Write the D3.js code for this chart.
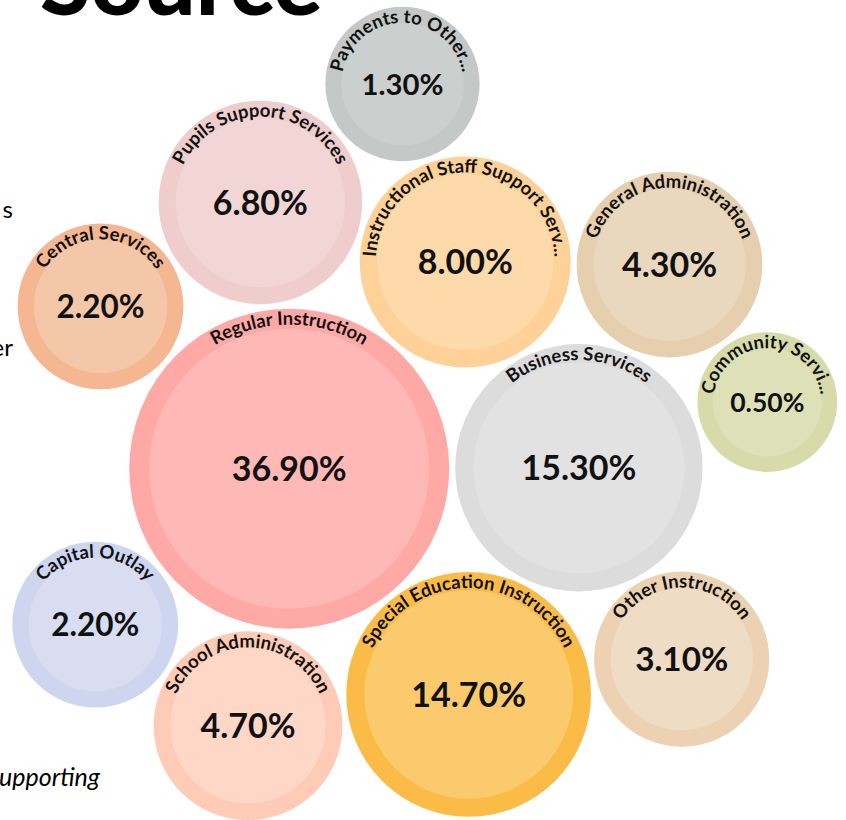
<!DOCTYPE html>
<html>
<head>
<meta charset="utf-8">
<script src="https://cdn.jsdelivr.net/npm/d3@7"></script>
<style>
  body { margin: 0; background: #fff; }
  svg { display: block; font-family: Lato, "Noto Sans", sans-serif; }
</style>
</head>
<body>
<svg id="chart" width="846" height="820"></svg>
<script>
// spending by function, share of total
var categories = ["Regular Instruction", "Business Services", "Special Education Instruction",
    "Instructional Staff Support Services", "Pupils Support Services", "School Administration",
    "General Administration", "Other Instruction", "Central Services", "Capital Outlay",
    "Payments to Other Districts", "Community Services"];
var shares = [36.9, 15.3, 14.7, 8.0, 6.8, 4.7, 4.3, 3.1, 2.2, 2.2, 1.3, 0.5];
var ringColors = ["#fea9a6", "#dcdcdc", "#fbbc47", "#fdd197", "#efcdcd", "#fecbb6",
    "#e6cfae", "#ecd1b3", "#f4b792", "#cdd5ef", "#c4c9c8", "#d7dba9"];
var fillColors = ["#feb8b6", "#e2e2e2", "#fbca6c", "#fed9a9", "#f2d6d6", "#fed7c7",
    "#e9d8be", "#efdcc5", "#f5c7a9", "#d8ddf1", "#cbcfce", "#dee1b7"];
// rough direction of each bubble around the cluster (layout hint, degrees)
var seedAngle = [170, 6, 76, 287, 239, 120, 325, 38, 205, 151, 270, 353];

var svg = d3.select("#chart"),
    width = +svg.attr("width"),
    height = +svg.attr("height");

// page text around the chart
svg.append("text").attr("x", 40).attr("y", 15)
    .style("font-size", "92px").style("font-weight", 900).text("Source");
svg.append("text").attr("x", 13).attr("y", 218).attr("text-anchor", "end")
    .style("font-size", "24px").text("s");
svg.append("text").attr("x", 13).attr("y", 356).attr("text-anchor", "end")
    .style("font-size", "24px").text("er");
svg.append("text").attr("x", -1).attr("y", 786)
    .style("font-size", "25px").style("font-style", "italic").text("upporting");

var radius = d3.scaleSqrt().domain([0, d3.max(shares)]).range([58, 160]);

var nodes = categories.map(function (c, i) {
    var a = seedAngle[i] * Math.PI / 180, d = 40 + 34 * i;
    return {
        name: c, value: shares[i], r: radius(shares[i]), i: i,
        x: 408 + d * Math.cos(a), y: 450 + d * Math.sin(a)
    };
});

var simulation = d3.forceSimulation(nodes)
    .force("x", d3.forceX(408).strength(0.05))
    .force("y", d3.forceY(450).strength(0.05))
    .force("collide", d3.forceCollide(function (d) { return d.r + 3; }).iterations(4))
    .stop();
for (var t = 0; t < 400; t++) simulation.tick();

var node = svg.append("g").selectAll("g")
    .data(nodes)
    .enter().append("g")
    .attr("transform", function (d) { return "translate(" + d.x + "," + d.y + ")"; });

node.append("circle")
    .attr("r", function (d) { return d.r; })
    .style("fill", function (d) { return ringColors[d.i]; });

node.append("circle")
    .attr("r", function (d) { return d.r - (12 + 0.05 * d.r); })
    .style("fill", function (d) { return fillColors[d.i]; });

// label runs along an arc, centered on the top of the bubble
node.append("path")
    .attr("id", function (d) { return "arc" + d.i; })
    .attr("fill", "none")
    .attr("d", function (d) {
        var rb = d.r - 16;
        return "M0," + rb + "A" + rb + "," + rb + " 0 1,1 0," + (-rb) +
            "A" + rb + "," + rb + " 0 1,1 0," + rb;
    });

var label = node.append("text")
    .style("font-size", "18.5px")
    .style("font-weight", 700)
    .style("fill", "#111")
    .append("textPath")
    .attr("xlink:href", function (d) { return "#arc" + d.i; })
    .attr("startOffset", "50%")
    .style("text-anchor", "middle")
    .text(function (d) { return d.name; });

// shorten labels that don't fit over the top of the bubble
label.each(function (d) {
    var el = d3.select(this), txt = d.name, budget = 3.2 * (d.r - 20);
    var probe = svg.append("text").style("font-size", "18.5px").style("font-weight", 700).text(txt);
    if (probe.node().getComputedTextLength() > budget) {
        while (txt.length > 1) {
            txt = txt.slice(0, -1).replace(/\s+$/, "");
            probe.text(txt + "...");
            if (probe.node().getComputedTextLength() <= budget) break;
        }
        txt = txt + "...";
    }
    probe.remove();
    el.text(txt);
});

node.append("text")
    .attr("text-anchor", "middle")
    .attr("dy", "0.36em")
    .style("font-size", function (d) { return Math.min(34, d.r * 0.38) + "px"; })
    .style("font-weight", 700)
    .style("fill", "#111")
    .text(function (d) { return d3.format(".2f")(d.value) + "%"; });
</script>
</body>
</html>
